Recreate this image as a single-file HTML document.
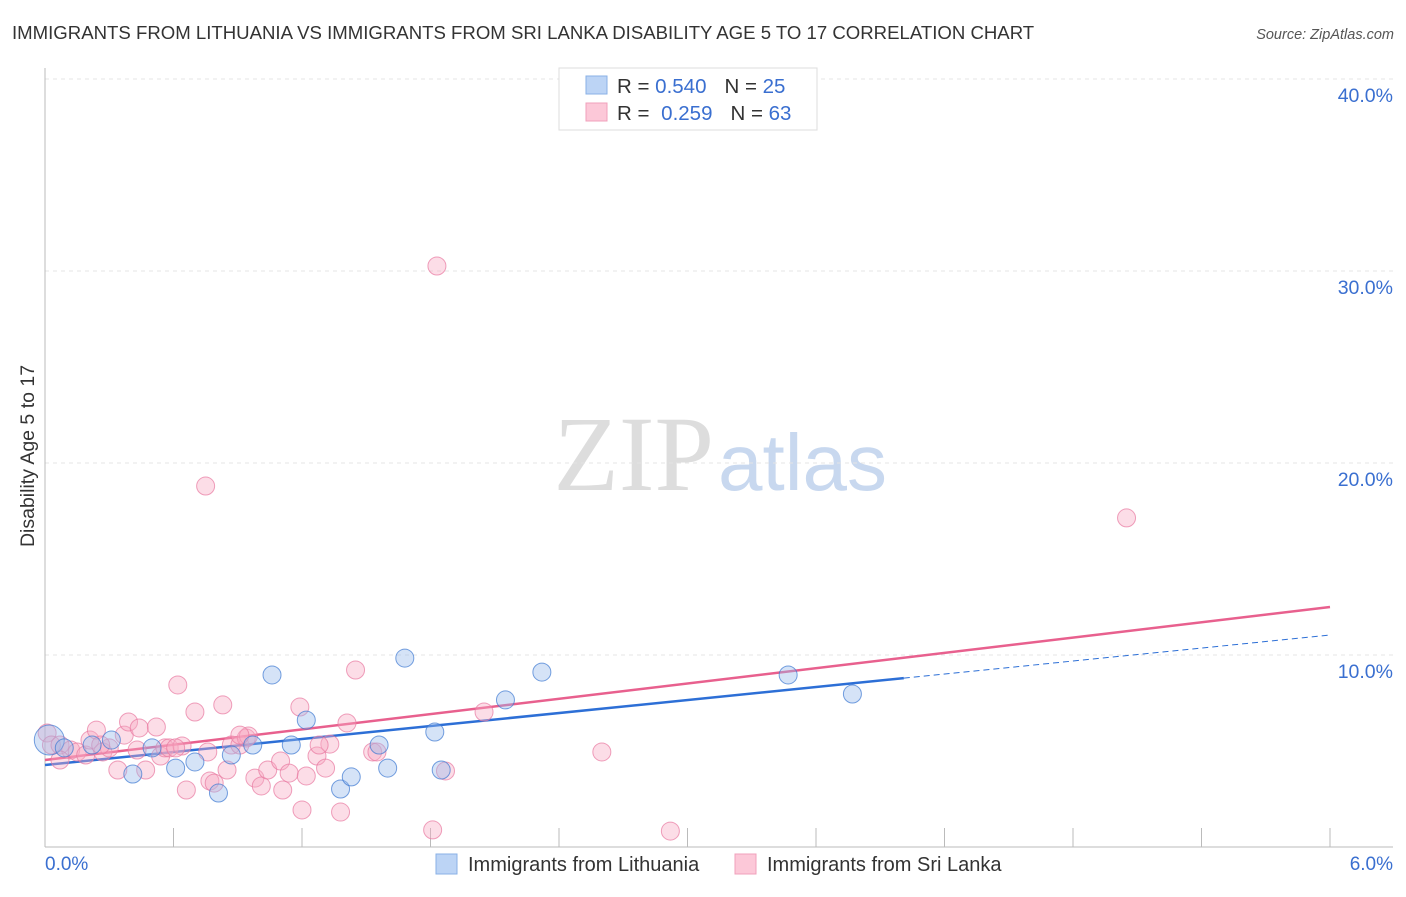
<!DOCTYPE html>
<html><head><meta charset="utf-8"><style>
body{margin:0;width:1406px;height:892px;background:#fff;font-family:"Liberation Sans",sans-serif;overflow:hidden}
</style></head><body>
<svg id="chart" width="1406" height="892" xmlns="http://www.w3.org/2000/svg">
<text x="12" y="39" font-size="18.6" fill="#333">IMMIGRANTS FROM LITHUANIA VS IMMIGRANTS FROM SRI LANKA DISABILITY AGE 5 TO 17 CORRELATION CHART</text>
<text x="1394" y="39" font-size="14.5" fill="#555" font-style="italic" text-anchor="end">Source: ZipAtlas.com</text>
<text x="714" y="490" font-size="107" fill="#ddd" text-anchor="end" font-family="Liberation Serif,serif">ZIP</text>
<text x="718" y="490" font-size="80" fill="#c8d8ef">atlas</text>
<text transform="translate(34,456) rotate(-90)" font-size="19.5" fill="#333" text-anchor="middle">Disability Age 5 to 17</text>
<g id="grid"></g><g id="axes"></g><g id="lines"></g><g id="pts"></g>
<g>
<rect x="559" y="68" width="258" height="62" fill="#fff" stroke="#ddd"/>
<rect x="586" y="76" width="21" height="18" fill="#bcd4f5" stroke="#8ab0e6"/>
<rect x="586" y="103" width="21" height="18" fill="#fcc8d8" stroke="#f0a0bb"/>
<text x="617" y="93" font-size="20.5" fill="#333">R = <tspan fill="#3a6fd0">0.540</tspan><tspan dx="18">N = </tspan><tspan fill="#3a6fd0">25</tspan></text>
<text x="617" y="120" font-size="20.5" fill="#333">R = <tspan dx="6" fill="#3a6fd0">0.259</tspan><tspan dx="18">N = </tspan><tspan fill="#3a6fd0">63</tspan></text>
</g>
<g>
<rect x="436" y="854" width="21" height="20" fill="#bcd4f5" stroke="#8ab0e6"/>
<text x="468" y="871" font-size="20" fill="#333">Immigrants from Lithuania</text>
<rect x="735" y="854" width="21" height="20" fill="#fcc8d8" stroke="#f0a0bb"/>
<text x="767" y="871" font-size="20" fill="#333">Immigrants from Sri Lanka</text>
</g>
</svg>
<script>
const yTicks=[10,20,30,40];
const yTickLabels=["10.0%","20.0%","30.0%","40.0%"];
const xTickCount=10;
const blueX=[0.02,0.22,0.31,0.41,0.50,0.61,0.70,0.81,0.87,0.97,1.06,1.15,1.22,1.38,1.43,1.56,1.60,1.68,1.82,1.85,2.15,2.32,3.47,3.77,0.09];
const blueY=[5.57,5.31,5.57,3.80,5.16,4.11,4.43,2.81,4.79,5.31,8.96,5.31,6.61,3.02,3.65,5.31,4.11,9.84,5.99,4.01,7.66,9.11,8.96,7.97,5.16];
const pinkX=[0.01,0.03,0.07,0.12,0.15,0.19,0.21,0.24,0.27,0.30,0.34,0.37,0.39,0.43,0.44,0.47,0.52,0.54,0.56,0.58,0.62,0.64,0.66,0.70,0.75,0.76,0.77,0.79,0.83,0.85,0.87,0.91,0.94,0.95,0.98,1.01,1.04,1.10,1.11,1.14,1.19,1.20,1.22,1.27,1.31,1.33,1.38,1.41,1.45,1.53,1.55,1.81,1.83,1.87,2.05,2.60,2.92,5.05,0.07,0.26,0.61,0.91,1.28];
const pinkY=[5.94,5.31,5.31,5.05,4.95,4.79,5.57,6.09,4.95,5.16,4.01,5.83,6.51,5.05,6.20,4.01,6.25,4.74,5.16,5.16,8.44,5.26,2.97,7.03,18.8,4.95,3.44,3.33,7.40,4.01,5.31,5.31,5.68,5.78,3.59,3.18,4.01,4.48,2.97,3.85,7.29,1.93,3.70,4.74,4.11,5.36,1.82,6.46,9.22,4.95,4.95,0.89,30.26,3.96,7.03,4.95,0.83,17.14,4.53,5.31,5.16,5.83,5.31];
const blueTrend=[4.27,11.04];
const pinkTrend=[4.53,12.5];
const blueSolidEnd=4.01;
const NS="http://www.w3.org/2000/svg";
const X0=45,X1=1330,Y0=847,PY=19.2;
const sx=v=>X0+v/6*(X1-X0), sy=v=>Y0-v*PY;
function mk(tag,attrs,parent){const e=document.createElementNS(NS,tag);for(const k in attrs)e.setAttribute(k,attrs[k]);parent.appendChild(e);return e;}
const grid=document.getElementById('grid'),axes=document.getElementById('axes');
yTicks.forEach((t,i)=>{
 const g=mk('line',{x1:X0,x2:1393,y1:sy(t),y2:sy(t),stroke:'#e4e4e4','stroke-dasharray':'4,4'},grid);
 
 
 const l=mk('text',{x:1393,y:sy(t)+23,'font-size':19.5,fill:'#3a6fd0','text-anchor':'end'},axes);
 l.textContent=yTickLabels[i];
 
 
});
const ya=mk('line',{x1:X0,x2:X0,y1:68,y2:Y0,stroke:'#bbb'},axes);


const xa=mk('line',{x1:X0,x2:1393,y1:Y0,y2:Y0,stroke:'#bbb'},axes);


for(let i=1;i<=xTickCount;i++){const x=X0+i*(X1-X0)/xTickCount;const t=mk('line',{x1:x,x2:x,y1:828,y2:Y0,stroke:'#bbb'},axes);
 
 }
const xl0=mk('text',{x:45,y:870,'font-size':19,fill:'#3a6fd0'},axes);xl0.textContent='0.0%';


const xl1=mk('text',{x:1393,y:870,'font-size':19,fill:'#3a6fd0','text-anchor':'end'},axes);xl1.textContent='6.0%';


const pts=document.getElementById('pts');
pinkX.forEach((x,i)=>{const c=mk('circle',{cx:sx(x),cy:sy(pinkY[i]),r:9,fill:'rgba(248,170,195,0.4)',stroke:'rgba(232,120,160,0.7)'},pts);
 
 });
blueX.forEach((x,i)=>{const c=mk('circle',{cx:sx(x),cy:sy(blueY[i]),r:i==0?15:9,fill:'rgba(150,185,235,0.4)',stroke:'rgba(60,120,210,0.7)'},pts);
 
 });
const lines=document.getElementById('lines');
const bAt=v=>blueTrend[0]+(blueTrend[1]-blueTrend[0])*v/6;
const pl=mk('line',{x1:sx(0),y1:sy(pinkTrend[0]),x2:sx(6),y2:sy(pinkTrend[1]),stroke:'#e8608e','stroke-width':2.5},lines);


const bl=mk('line',{x1:sx(0),y1:sy(bAt(0)),x2:sx(blueSolidEnd),y2:sy(bAt(blueSolidEnd)),stroke:'#2d6fd6','stroke-width':2.5},lines);


const bd=mk('line',{x1:sx(blueSolidEnd),y1:sy(bAt(blueSolidEnd)),x2:sx(6),y2:sy(bAt(6)),stroke:'#2d6fd6','stroke-width':1,'stroke-dasharray':'6,4'},lines);


</script>
</body></html>
